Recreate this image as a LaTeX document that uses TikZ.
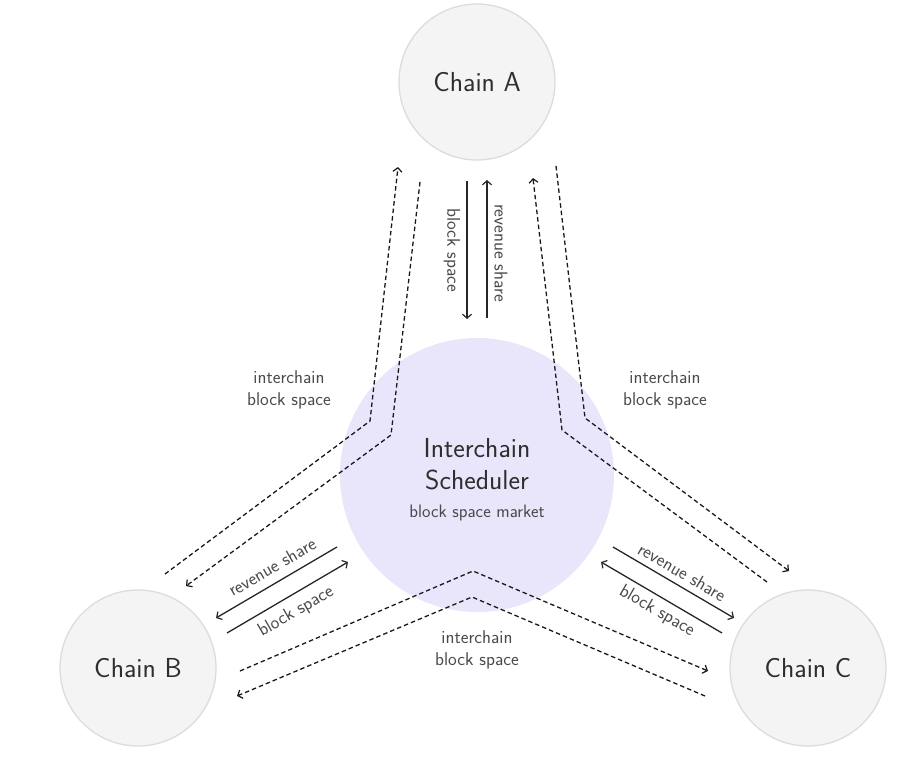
\documentclass[tikz,border=0pt]{standalone}
\usepackage{fontspec}
\usetikzlibrary{arrows.meta}
\definecolor{chainfill}{HTML}{F4F4F4}
\definecolor{chainborder}{HTML}{DCDCDC}
\definecolor{schedfill}{HTML}{E9E5FB}
\definecolor{textdark}{HTML}{2E2E2E}
\definecolor{labelgray}{HTML}{4A4A4A}
\tikzset{
  chain/.style={circle, draw=chainborder, fill=chainfill, line width=1.3pt, minimum size=156pt, inner sep=0pt, font=\sffamily\fontsize{27.5}{32}\selectfont, text=textdark},
  sched/.style={circle, fill=schedfill, minimum size=274pt, inner sep=0pt},
  schedtext/.style={align=center, text=textdark, font=\sffamily\fontsize{27.5}{32}\selectfont},
  lbl/.style={align=center, text=labelgray, font=\sffamily\fontsize{18.5}{22}\selectfont, inner sep=0pt},
  tip/.style={-{Straight Barb[length=4pt,width=9pt,line width=1.2pt]}},
  flow/.style={line width=1.3pt, draw=black!85, tip},
  dflow/.style={line width=1.3pt, draw=black!90, dash pattern=on 4.5pt off 3pt, line join=round},
}
\begin{document}
\begin{tikzpicture}[x=1pt,y=-1pt]
\useasboundingbox (0,0) rectangle (924,760);
% circles
\node[sched] (S) at (477,475) {};
\node[chain] (A) at (477,82) {Chain A};
\node[chain] (B) at (138,668) {Chain B};
\node[chain] (C) at (808,668) {Chain C};
\node[schedtext] (St) at (477,464) {Interchain\\Scheduler};
\node[lbl, font=\sffamily\fontsize{18}{22}\selectfont] (Sm) at (477,513) {block space market};

% coordinates for dashed connectors
\coordinate (la1s) at (165,574); \coordinate (la1m) at (370,421); \coordinate (la1e) at (398,167);
\coordinate (la2s) at (420,182); \coordinate (la2m) at (391,435); \coordinate (la2e) at (186,586);
\coordinate (ra1s) at (767,582); \coordinate (ra1m) at (562,430); \coordinate (ra1e) at (533,178);
\coordinate (ra2s) at (556,166); \coordinate (ra2m) at (585,418); \coordinate (ra2e) at (789,571);
\coordinate (b1s) at (240,671); \coordinate (b1m) at (473,571); \coordinate (b1e) at (708,671);
\coordinate (b2s) at (705,696); \coordinate (b2m) at (472,597); \coordinate (b2e) at (237,696);

\draw[dflow, tip] (la1s) -- (la1m) -- (la1e);
\draw[dflow, tip] (la2s) -- (la2m) -- (la2e);
\draw[dflow, tip] (ra1s) -- (ra1m) -- (ra1e);
\draw[dflow, tip] (ra2s) -- (ra2m) -- (ra2e);
\draw[dflow, tip] (b1s) -- (b1m) -- (b1e);
\draw[dflow, tip] (b2s) -- (b2m) -- (b2e);

% solid connectors
\coordinate (a1s) at (467,181); \coordinate (a1e) at (467,319);
\coordinate (a2s) at (487,318); \coordinate (a2e) at (487,180);
\coordinate (l1s) at (337,547); \coordinate (l1e) at (216,618);
\coordinate (l2s) at (227,633); \coordinate (l2e) at (348,562);
\coordinate (r1s) at (613,547); \coordinate (r1e) at (734,618);
\coordinate (r2s) at (722,633); \coordinate (r2e) at (601,562);
\draw[flow] (a1s) -- (a1e);
\draw[flow] (a2s) -- (a2e);
\draw[flow] (l1s) -- (l1e);
\draw[flow] (l2s) -- (l2e);
\draw[flow] (r1s) -- (r1e);
\draw[flow] (r2s) -- (r2e);

% labels
\node[lbl, rotate=-90] (ta1) at (452,250) {block space};
\node[lbl, rotate=-90] (ta2) at (501,253) {revenue share};
\node[lbl, rotate=30] (tl1) at (272,567) {revenue share};
\node[lbl, rotate=30] (tl2) at (296,612) {block space};
\node[lbl, rotate=-30] (tr1) at (682,572) {revenue share};
\node[lbl, rotate=-30] (tr2) at (657,611) {block space};
\node[lbl] (il) at (289,390) {interchain\\block space};
\node[lbl] (ir) at (665,390) {interchain\\block space};
\node[lbl] (ib) at (477,650) {interchain\\block space};
\end{tikzpicture}
\end{document}
